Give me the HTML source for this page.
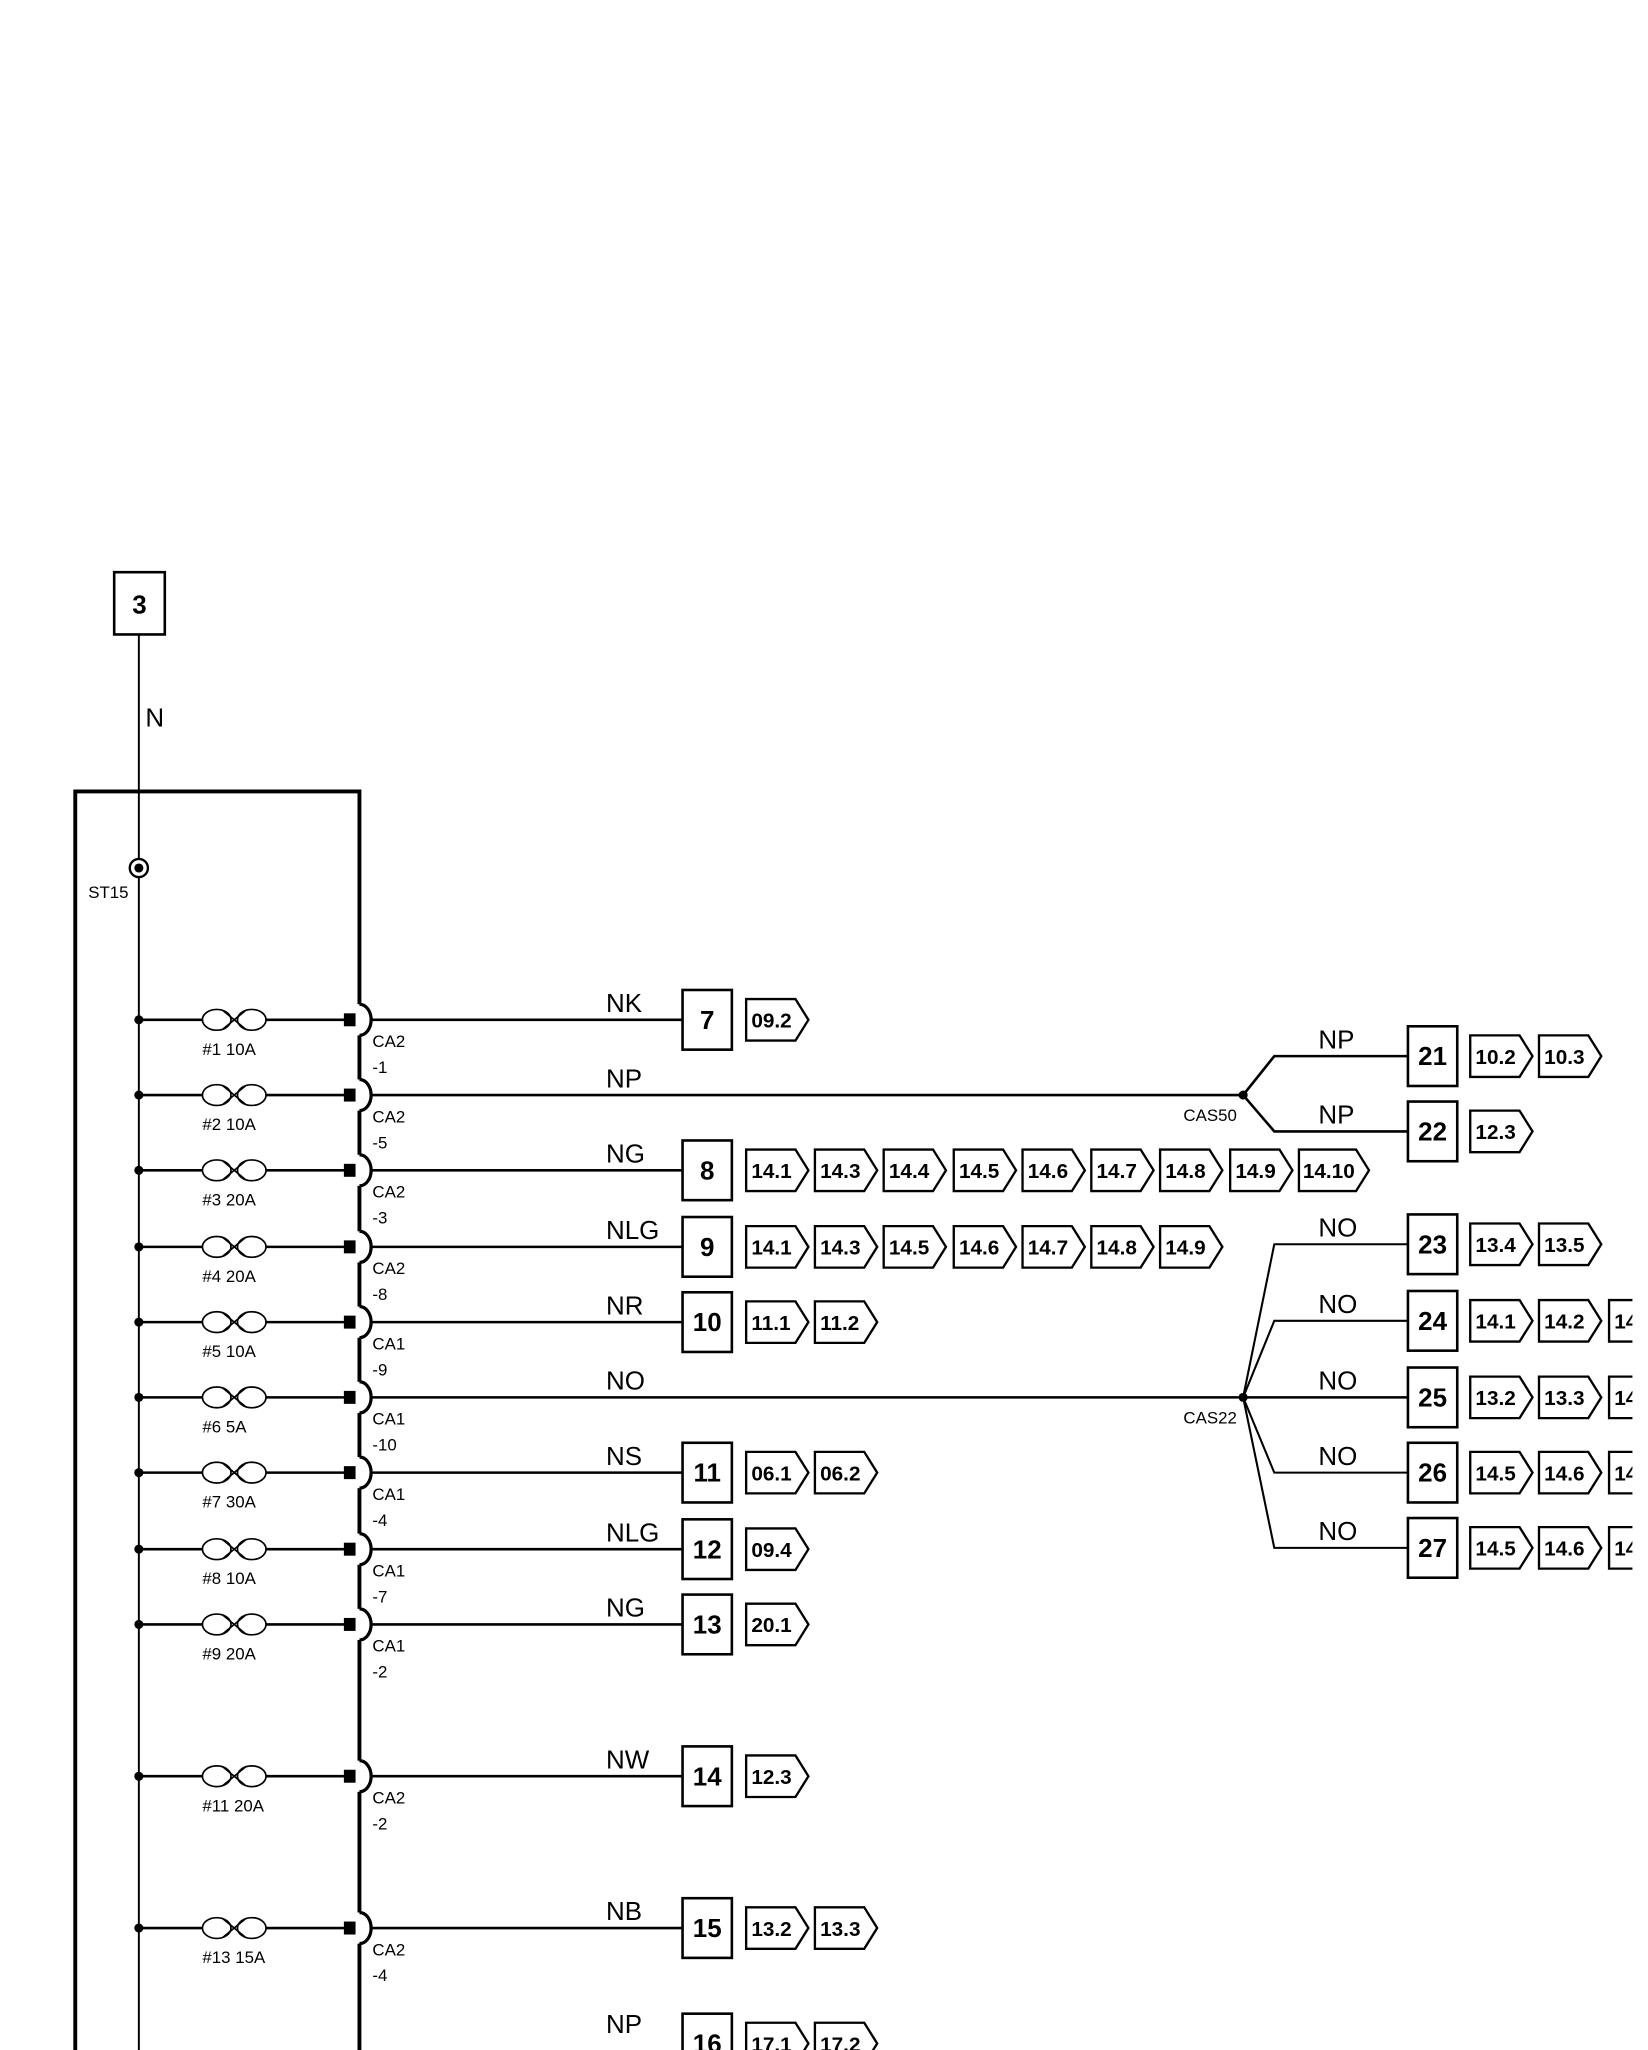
<!DOCTYPE html>
<html><head><meta charset="utf-8"><style>
html,body{margin:0;padding:0;background:#fff;}
svg{display:block;}
text{font-family:"Liberation Sans",sans-serif;fill:#000;}
.wl{font-size:20px;}
.bn{font-size:20px;font-weight:bold;text-anchor:middle;}
.rf{font-size:16px;font-weight:bold;}
.sm{font-size:13px;}
</style></head><body>
<svg width="1648" height="2050" viewBox="0 0 1270 1580" preserveAspectRatio="none" xmlns="http://www.w3.org/2000/svg">
<defs>
<g id="fuse">
<line x1="107" y1="0" x2="156" y2="0" stroke="#000" stroke-width="2"/>
<ellipse cx="167" cy="0" rx="11" ry="8" fill="#fff" stroke="#000" stroke-width="1.3"/>
<ellipse cx="194" cy="0" rx="11" ry="8" fill="#fff" stroke="#000" stroke-width="1.3"/>
<line x1="172" y1="-7" x2="189" y2="7" stroke="#000" stroke-width="1.3"/>
<line x1="172" y1="7" x2="189" y2="-7" stroke="#000" stroke-width="1.3"/>
<line x1="205" y1="0" x2="266" y2="0" stroke="#000" stroke-width="2"/>
<circle cx="107" cy="0" r="3.5" fill="#000"/>
<rect x="265" y="-5" width="11" height="10" fill="#000"/>
<rect x="274" y="-12" width="6" height="24" fill="#fff"/>
<path d="M277,-12 A9 12 0 0 1 277,12" fill="none" stroke="#000" stroke-width="2.5"/>
</g>
<path id="ar" d="M0,-16 H38 L48,0 L38,16 H0 Z" fill="#fff" stroke="#000" stroke-width="1.8"/>
</defs>

<!-- top box 3 -->
<rect x="88" y="441" width="39" height="48" fill="#fff" stroke="#000" stroke-width="2"/>
<text class="bn" x="107.5" y="473">3</text>
<line x1="107" y1="489" x2="107" y2="1580" stroke="#000" stroke-width="1.5"/>
<text class="wl" x="112" y="560">N</text>
<!-- big box -->
<path d="M58,1580 V610 H277 V1580" fill="none" stroke="#000" stroke-width="3"/>
<circle cx="107" cy="669" r="7" fill="#fff" stroke="#000" stroke-width="1.8"/>
<circle cx="107" cy="669" r="3.5" fill="#000"/>
<text class="sm" x="68" y="692">ST15</text>

<!-- rows -->
<g transform="translate(0,786)"><use href="#fuse"/></g>
<g transform="translate(0,844)"><use href="#fuse"/></g>
<g transform="translate(0,902)"><use href="#fuse"/></g>
<g transform="translate(0,961)"><use href="#fuse"/></g>
<g transform="translate(0,1019)"><use href="#fuse"/></g>
<g transform="translate(0,1077)"><use href="#fuse"/></g>
<g transform="translate(0,1135)"><use href="#fuse"/></g>
<g transform="translate(0,1194)"><use href="#fuse"/></g>
<g transform="translate(0,1252)"><use href="#fuse"/></g>
<g transform="translate(0,1369)"><use href="#fuse"/></g>
<g transform="translate(0,1486)"><use href="#fuse"/></g>

<g class="sm">
<text x="156" y="813">#1 10A</text><text x="287" y="807">CA2</text><text x="287" y="827">-1</text>
<text x="156" y="871">#2 10A</text><text x="287" y="865">CA2</text><text x="287" y="885">-5</text>
<text x="156" y="929">#3 20A</text><text x="287" y="923">CA2</text><text x="287" y="943">-3</text>
<text x="156" y="988">#4 20A</text><text x="287" y="982">CA2</text><text x="287" y="1002">-8</text>
<text x="156" y="1046">#5 10A</text><text x="287" y="1040">CA1</text><text x="287" y="1060">-9</text>
<text x="156" y="1104">#6 5A</text><text x="287" y="1098">CA1</text><text x="287" y="1118">-10</text>
<text x="156" y="1162">#7 30A</text><text x="287" y="1156">CA1</text><text x="287" y="1176">-4</text>
<text x="156" y="1221">#8 10A</text><text x="287" y="1215">CA1</text><text x="287" y="1235">-7</text>
<text x="156" y="1279">#9 20A</text><text x="287" y="1273">CA1</text><text x="287" y="1293">-2</text>
<text x="156" y="1396">#11 20A</text><text x="287" y="1390">CA2</text><text x="287" y="1410">-2</text>
<text x="156" y="1513">#13 15A</text><text x="287" y="1507">CA2</text><text x="287" y="1527">-4</text>
<text x="912" y="864">CAS50</text><text x="912" y="1097">CAS22</text>
</g>

<!-- wires -->
<g stroke="#000" stroke-width="2" fill="none">
<line x1="285" y1="786" x2="526" y2="786"/>
<line x1="285" y1="844" x2="958" y2="844"/>
<line x1="285" y1="902" x2="526" y2="902"/>
<line x1="285" y1="961" x2="526" y2="961"/>
<line x1="285" y1="1019" x2="526" y2="1019"/>
<line x1="285" y1="1077" x2="958" y2="1077"/>
<line x1="285" y1="1135" x2="526" y2="1135"/>
<line x1="285" y1="1194" x2="526" y2="1194"/>
<line x1="285" y1="1252" x2="526" y2="1252"/>
<line x1="285" y1="1369" x2="526" y2="1369"/>
<line x1="285" y1="1486" x2="526" y2="1486"/>
<polyline points="958,844 982,814 1085,814"/>
<polyline points="958,844 982,872 1085,872"/>
<polyline points="958,1077 982,959 1085,959" stroke-width="1.6"/>
<polyline points="958,1077 982,1018 1085,1018" stroke-width="1.6"/>
<line x1="958" y1="1077" x2="1085" y2="1077"/>
<polyline points="958,1077 982,1135 1085,1135" stroke-width="1.6"/>
<polyline points="958,1077 982,1193 1085,1193" stroke-width="1.6"/>
</g>
<circle cx="958" cy="844" r="3.5"/><circle cx="958" cy="1077" r="3.5"/>

<g class="wl">
<text x="467" y="780">NK</text><text x="467" y="838">NP</text><text x="467" y="896">NG</text>
<text x="467" y="955">NLG</text><text x="467" y="1013">NR</text><text x="467" y="1071">NO</text>
<text x="467" y="1129">NS</text><text x="467" y="1188">NLG</text><text x="467" y="1246">NG</text>
<text x="467" y="1363">NW</text><text x="467" y="1480">NB</text><text x="467" y="1567">NP</text>
<text x="1016" y="808">NP</text><text x="1016" y="866">NP</text>
<text x="1016" y="953">NO</text><text x="1016" y="1012">NO</text><text x="1016" y="1071">NO</text>
<text x="1016" y="1129">NO</text><text x="1016" y="1187">NO</text>
</g>

<!-- number boxes -->
<g fill="#fff" stroke="#000" stroke-width="2">
<rect x="526" y="763" width="38" height="46"/><rect x="526" y="879" width="38" height="46"/>
<rect x="526" y="938" width="38" height="46"/><rect x="526" y="996" width="38" height="46"/>
<rect x="526" y="1112" width="38" height="46"/><rect x="526" y="1171" width="38" height="46"/>
<rect x="526" y="1229" width="38" height="46"/><rect x="526" y="1346" width="38" height="46"/>
<rect x="526" y="1463" width="38" height="46"/><rect x="526" y="1552" width="38" height="46"/>
<rect x="1085" y="791" width="38" height="46"/><rect x="1085" y="849" width="38" height="46"/>
<rect x="1085" y="936" width="38" height="46"/><rect x="1085" y="995" width="38" height="46"/>
<rect x="1085" y="1054" width="38" height="46"/><rect x="1085" y="1112" width="38" height="46"/>
<rect x="1085" y="1170" width="38" height="46"/>
</g>
<g class="bn">
<text x="545" y="793">7</text><text x="545" y="909">8</text><text x="545" y="968">9</text>
<text x="545" y="1026">10</text><text x="545" y="1142">11</text><text x="545" y="1201">12</text>
<text x="545" y="1259">13</text><text x="545" y="1376">14</text><text x="545" y="1493">15</text>
<text x="545" y="1582">16</text>
<text x="1104" y="821">21</text><text x="1104" y="879">22</text><text x="1104" y="966">23</text>
<text x="1104" y="1025">24</text><text x="1104" y="1084">25</text><text x="1104" y="1142">26</text>
<text x="1104" y="1200">27</text>
</g>

<!-- ref arrows -->
<g>
<use href="#ar" x="575" y="786"/>
<use href="#ar" x="575" y="902"/><use href="#ar" x="628" y="902"/><use href="#ar" x="681" y="902"/>
<use href="#ar" x="735" y="902"/><use href="#ar" x="788" y="902"/><use href="#ar" x="841" y="902"/>
<use href="#ar" x="894" y="902"/><use href="#ar" x="948" y="902"/>
<path d="M1001,886 H1045 L1055,902 L1045,918 H1001 Z" fill="#fff" stroke="#000" stroke-width="1.8"/>
<use href="#ar" x="575" y="961"/><use href="#ar" x="628" y="961"/><use href="#ar" x="681" y="961"/>
<use href="#ar" x="735" y="961"/><use href="#ar" x="788" y="961"/><use href="#ar" x="841" y="961"/>
<use href="#ar" x="894" y="961"/>
<use href="#ar" x="575" y="1019"/><use href="#ar" x="628" y="1019"/>
<use href="#ar" x="575" y="1135"/><use href="#ar" x="628" y="1135"/>
<use href="#ar" x="575" y="1194"/><use href="#ar" x="575" y="1252"/>
<use href="#ar" x="575" y="1369"/>
<use href="#ar" x="575" y="1486"/><use href="#ar" x="628" y="1486"/>
<use href="#ar" x="575" y="1575"/><use href="#ar" x="628" y="1575"/>
<use href="#ar" x="1133" y="814"/><use href="#ar" x="1186" y="814"/>
<use href="#ar" x="1133" y="872"/>
<use href="#ar" x="1133" y="959"/><use href="#ar" x="1186" y="959"/>
<use href="#ar" x="1133" y="1018"/><use href="#ar" x="1186" y="1018"/><use href="#ar" x="1240" y="1018"/>
<use href="#ar" x="1133" y="1077"/><use href="#ar" x="1186" y="1077"/><use href="#ar" x="1240" y="1077"/>
<use href="#ar" x="1133" y="1135"/><use href="#ar" x="1186" y="1135"/><use href="#ar" x="1240" y="1135"/>
<use href="#ar" x="1133" y="1193"/><use href="#ar" x="1186" y="1193"/><use href="#ar" x="1240" y="1193"/>
</g>
<g class="rf">
<text x="579" y="792">09.2</text>
<text x="579" y="908">14.1</text><text x="632" y="908">14.3</text><text x="685" y="908">14.4</text>
<text x="739" y="908">14.5</text><text x="792" y="908">14.6</text><text x="845" y="908">14.7</text>
<text x="898" y="908">14.8</text><text x="952" y="908">14.9</text><text x="1004" y="908">14.10</text>
<text x="579" y="967">14.1</text><text x="632" y="967">14.3</text><text x="685" y="967">14.5</text>
<text x="739" y="967">14.6</text><text x="792" y="967">14.7</text><text x="845" y="967">14.8</text>
<text x="898" y="967">14.9</text>
<text x="579" y="1025">11.1</text><text x="632" y="1025">11.2</text>
<text x="579" y="1141">06.1</text><text x="632" y="1141">06.2</text>
<text x="579" y="1200">09.4</text><text x="579" y="1258">20.1</text>
<text x="579" y="1375">12.3</text>
<text x="579" y="1492">13.2</text><text x="632" y="1492">13.3</text>
<text x="579" y="1581">17.1</text><text x="632" y="1581">17.2</text>
<text x="1137" y="820">10.2</text><text x="1190" y="820">10.3</text>
<text x="1137" y="878">12.3</text>
<text x="1137" y="965">13.4</text><text x="1190" y="965">13.5</text>
<text x="1137" y="1024">14.1</text><text x="1190" y="1024">14.2</text><text x="1244" y="1024">14.3</text>
<text x="1137" y="1083">13.2</text><text x="1190" y="1083">13.3</text><text x="1244" y="1083">14.1</text>
<text x="1137" y="1141">14.5</text><text x="1190" y="1141">14.6</text><text x="1244" y="1141">14.7</text>
<text x="1137" y="1199">14.5</text><text x="1190" y="1199">14.6</text><text x="1244" y="1199">14.7</text>
</g>
<rect x="1258" y="0" width="20" height="1580" fill="#fff"/>
</svg>
</body></html>
